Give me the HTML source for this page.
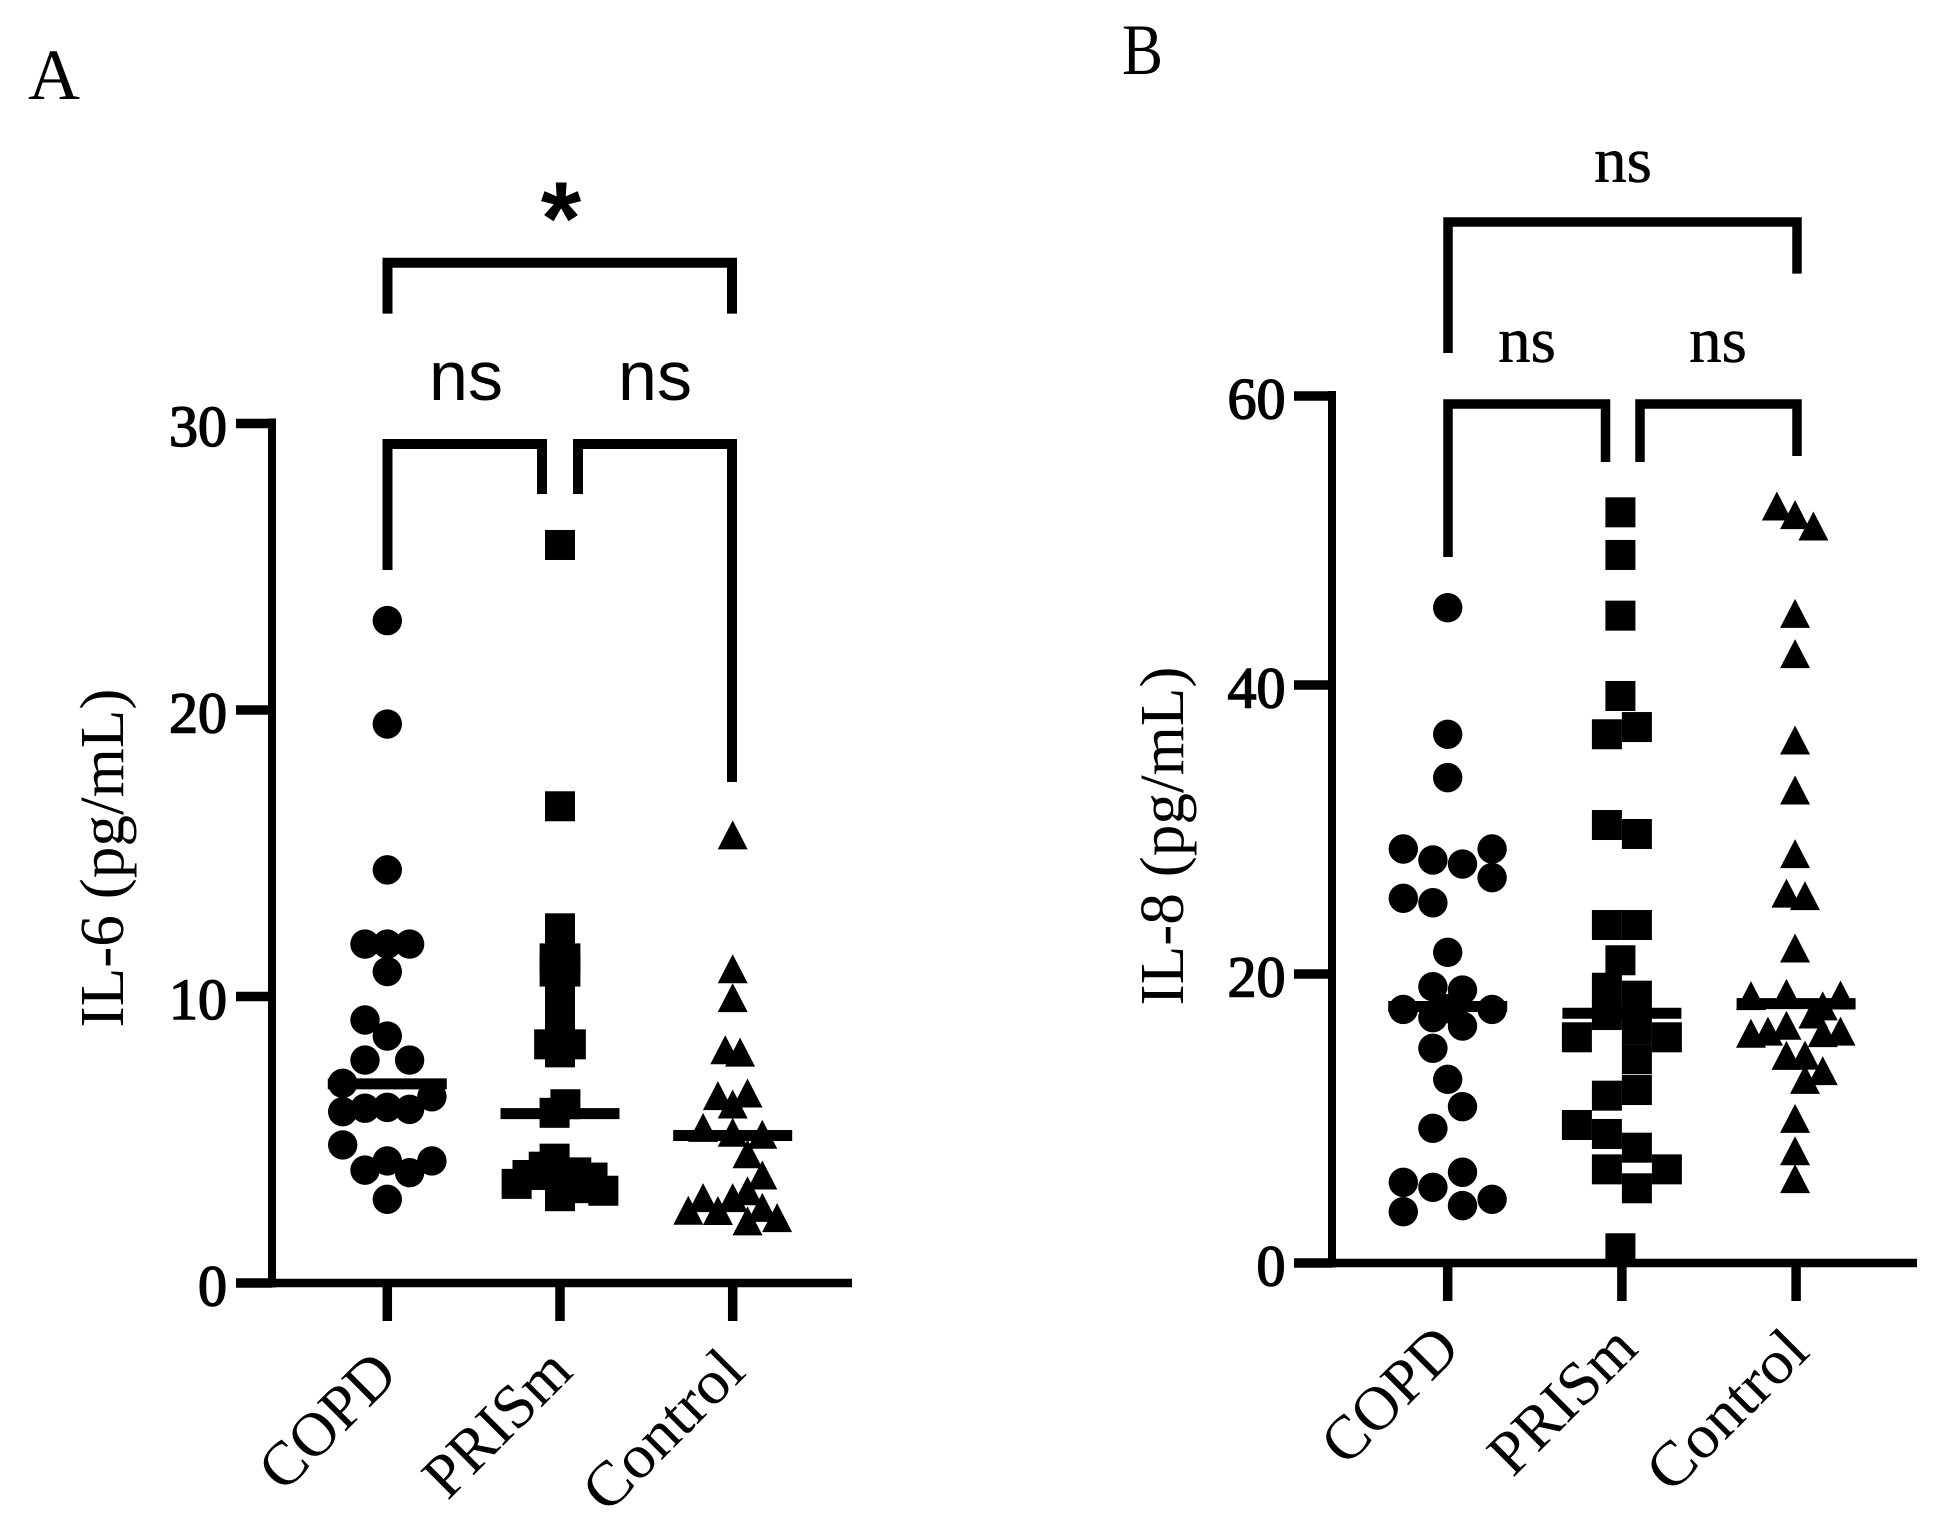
<!DOCTYPE html>
<html lang="en">
<head>
<meta charset="utf-8">
<title>IL-6 and IL-8 by group</title>
<style>
html,body{margin:0;padding:0;background:#fff;}
svg{display:block;}
text{font-family:"Liberation Serif",serif;fill:#000;}
.sans{font-family:"Liberation Sans",sans-serif;}
.bracket{fill:none;stroke:#000;stroke-linejoin:miter;stroke-linecap:butt;}
</style>
</head>
<body>
<svg id="chart" xmlns="http://www.w3.org/2000/svg" width="1942" height="1536" viewBox="0 0 1942 1536">
  <rect width="1942" height="1536" fill="#fff"/>
  <text x="28" y="99" font-size="72">A</text>
  <text x="1122" y="74" font-size="72" textLength="41" lengthAdjust="spacingAndGlyphs">B</text>

  <g>
    <polyline class="bracket" stroke-width="10" points="387.5,313.6 387.5,262.8 732,262.8 732,313.6"/>
    <polyline class="bracket" stroke-width="10" points="387.5,570 387.5,444 542,444 542,494"/>
    <polyline class="bracket" stroke-width="10" points="578,494 578,444 732,444 732,782"/>
    <text class="sans" x="561" y="254" font-size="104" font-weight="700" text-anchor="middle">*</text>
    <text class="sans" x="466" y="400" font-size="70" text-anchor="middle">ns</text>
    <text class="sans" x="655" y="400" font-size="70" text-anchor="middle">ns</text>
  </g>

  <g>
    <polyline class="bracket" stroke-width="9.5" points="1448,353 1448,222 1797,222 1797,273.6"/>
    <polyline class="bracket" stroke-width="9.5" points="1448,557 1448,404 1605.5,404 1605.5,462"/>
    <polyline class="bracket" stroke-width="9.5" points="1640,462 1640,404 1797,404 1797,456"/>
    <text x="1623" y="182" font-size="65" text-anchor="middle" stroke="#000" stroke-width="0.5">ns</text>
    <text x="1527" y="362" font-size="65" text-anchor="middle" stroke="#000" stroke-width="0.5">ns</text>
    <text x="1718" y="362" font-size="65" text-anchor="middle" stroke="#000" stroke-width="0.5">ns</text>
  </g>

  <text transform="translate(123,858) rotate(-90)" font-size="62" textLength="339" lengthAdjust="spacingAndGlyphs" text-anchor="middle">IL-6 (pg/mL)</text>
  <text transform="translate(1183,836) rotate(-90)" font-size="62" textLength="339" lengthAdjust="spacingAndGlyphs" text-anchor="middle">IL-8 (pg/mL)</text>
</svg>

<script>
const categories = ['COPD', 'PRISm', 'Control'];

const aTickLabels = [0, 10, 20, 30];
const aCopdValues = [23.12, 19.51, 14.42, 11.83, 11.83, 11.83, 10.87, 9.18, 8.62, 7.78, 7.78, 6.97, 5.98, 6.10, 6.13, 6.06, 6.50, 4.82, 3.94, 4.26, 3.85, 4.26, 2.92];
const aCopdSwarm = [0, 0, 0, -1, 0, 1, 0, -1, 0, -1, 1, -2, -2, -1, 0, 1, 2, -2, -1, 0, 1, 2, 0];
const aPrismValues = [25.76, 16.64, 12.38, 11.62, 11.33, 11.33, 10.87, 10.87, 10.34, 9.76, 9.35, 8.72, 8.33, 8.33, 8.05, 6.24, 5.94, 4.34, 4.06, 3.77, 3.46, 3.86, 3.68, 3.22, 3.03, 3.60, 3.77, 3.31];
const aPrismSwarm = [0, 0, 0, 0, -1, 1, -1, 1, 0, 0, 0, 0, -2, 2, 0, 1, -1, -1, -3, -6, -8, 3, 6, 8, 0, 0, -3, 3];
const aControlValues = [15.64, 10.97, 9.96, 8.14, 8.06, 6.54, 6.63, 6.25, 5.43, 5.26, 5.19, 4.51, 3.77, 2.98, 2.54, 2.53, 2.98, 3.22, 2.64, 2.28, 2.17];
const aControlSwarm = [0, 0, 0, -0.5, 0.5, -1, 1, 0, -2, 0, 2, 1, 2, -2, -3, -1, 0, 1, 2, 3, 1];
const aMedians = [6.95, 5.91, 5.15];

const bTickLabels = [0, 20, 40, 60];
const bCopdValues = [45.35, 36.59, 33.59, 28.65, 27.89, 27.61, 28.65, 26.67, 25.24, 24.93, 21.5, 19.12, 18.89, 17.55, 17.55, 16.98, 16.40, 17.6, 14.86, 12.71, 10.82, 9.32, 6.28, 5.58, 5.24, 4.41, 3.97, 3.55];
const bCopdSwarm = [0, 0, 0, -3, -1, 1, 3, 3, -3, -1, 0, -1, 1, -3, 3, -1, 1, 0, -1, 0, 1, -1, 1, -3, -1, 3, 1, -3];
const bPrismValues = [51.95, 49.0, 44.8, 39.24, 37.09, 36.59, 30.31, 29.69, 23.39, 23.39, 20.95, 19.05, 18.5, 17.16, 16.17, 15.62, 15.62, 14.1, 11.97, 11.58, 9.55, 8.93, 7.98, 6.48, 6.48, 5.17, 1.02];
const bPrismSwarm = [-0.1, -0.1, -0.1, -0.1, 1, -1, -1, 1, -1, 1, -0.1, -1, 1, -1, 1, -3, 3, 1, 1, -1, -3, -1, 1, -1, 3, 1, -0.1];
const bControlValues = [52.39, 51.79, 51.0, 44.96, 42.17, 36.19, 32.73, 28.33, 25.6, 25.42, 21.8, 18.5, 18.66, 17.79, 18.55, 15.9, 16.05, 16.45, 17.23, 15.94, 16.05, 14.37, 14.39, 13.31, 12.71, 10.01, 7.77, 5.84];
const bControlSwarm = [-1.3, -0.07, 1.17, -0.07, -0.07, -0.07, -0.07, -0.07, -0.65, 0.6, -0.07, -3.05, -0.65, 1.8, 3.0, -3.05, -1.9, -0.65, 1.17, 1.8, 3.0, -0.65, 0.6, 1.8, 0.6, -0.07, -0.07, -0.07];
const bMedians = [17.75, 17.28, 17.95];

const NS = 'http://www.w3.org/2000/svg';
const svg = document.getElementById('chart');

function make(tag, parent, attrs) {
  const el = document.createElementNS(NS, tag);
  for (const k in attrs) el.setAttribute(k, attrs[k]);
  parent.appendChild(el);
  return el;
}

function drawPanel(p) {
  const group = make('g', svg, {});
  
  

  const yScale = v => p.y0 - (v / p.yMax) * (p.y0 - p.yTop);
  const xScale = i => p.x0 + i * p.xStep;

  // axes
  const yAxis = make('line', group, { x1: p.axisX, x2: p.axisX, y1: yScale(p.yMax) - 5, y2: p.y0 + 4.5, stroke: '#000', 'stroke-width': 8 });
  
  
  const xAxis = make('line', group, { x1: p.tickLeft, x2: p.axisRight, y1: p.y0, y2: p.y0, stroke: '#000', 'stroke-width': 8.5 });
  
  

  p.ticks.forEach(t => {
    const tick = make('line', group, { x1: p.tickLeft, x2: p.axisX, y1: yScale(t), y2: yScale(t), stroke: '#000', 'stroke-width': 9.5 });
    
    
    const label = make('text', group, { x: p.tickLabelX, y: yScale(t) + 22.5, 'font-size': 58, 'text-anchor': 'end', stroke: '#000', 'stroke-width': 1.5 });
    label.textContent = String(t);
    
    
  });

  categories.forEach((c, i) => {
    const tick = make('line', group, { x1: xScale(i), x2: xScale(i), y1: p.y0, y2: p.xTickEnd, stroke: '#000', 'stroke-width': 9.5 });
    
    
    const ax = xScale(i) + p.labelDx[i];
    const ay = p.labelY[i];
    const label = make('text', group, { transform: 'translate(' + ax + ',' + ay + ') rotate(-45)', 'font-size': 62, 'text-anchor': 'end', textLength: p.labelLength[i], lengthAdjust: 'spacingAndGlyphs' });
    label.textContent = c;
    
    
  });

  // COPD: circles
  p.circles.values.forEach((v, i) => {
    const m = make('circle', group, { cx: xScale(0) + p.circles.swarm[i] * p.circles.step, cy: yScale(v), r: 14.7, fill: '#000' });
    
    
  });

  // PRISm: squares
  p.squares.values.forEach((v, i) => {
    const cx = xScale(1) + p.squares.swarm[i] * p.squares.step;
    const m = make('rect', group, { x: cx - 15, y: yScale(v) - 15, width: 30, height: 30, fill: '#000' });
    
    
  });

  // Control: triangles
  p.triangles.values.forEach((v, i) => {
    const cx = xScale(2) + p.triangles.swarm[i] * p.triangles.step;
    const cy = yScale(v);
    const pts = [[cx, cy - 14.5], [cx + 15, cy + 14.5], [cx - 15, cy + 14.5]].map(q => q.join(',')).join(' ');
    const m = make('polygon', group, { points: pts, fill: '#000' });
    
    
  });

  // median lines
  p.medians.forEach((v, i) => {
    const line = make('line', group, { x1: xScale(i) - p.medianHalf, x2: xScale(i) + p.medianHalf, y1: yScale(v), y2: yScale(v), stroke: '#000', 'stroke-width': 11 });
    
    
  });
}

drawPanel({
  id: 'a', y0: 1283, yTop: 423.5, yMax: 30, ticks: aTickLabels,
  axisX: 272, tickLeft: 236, axisRight: 852, tickLabelX: 227,
  x0: 387.3, xStep: 172.7, xTickEnd: 1321,
  labelDx: [12.7, 14.9, 15], labelY: [1377, 1374, 1374],
  labelLength: [165, 180, 199],
  circles: { values: aCopdValues, swarm: aCopdSwarm, step: 22.3 },
  squares: { values: aPrismValues, swarm: aPrismSwarm, step: 5.42 },
  triangles: { values: aControlValues, swarm: aControlSwarm, step: 14.8 },
  medians: aMedians, medianHalf: 59.5
});

drawPanel({
  id: 'b', y0: 1263, yTop: 396, yMax: 60, ticks: bTickLabels,
  axisX: 1332, tickLeft: 1294, axisRight: 1917, tickLabelX: 1285.5,
  x0: 1447.7, xStep: 174.2, xTickEnd: 1301,
  labelDx: [14.8, 18.1, 15.5], labelY: [1351, 1351, 1354],
  labelLength: [165, 180, 199],
  circles: { values: bCopdValues, swarm: bCopdSwarm, step: 14.8 },
  squares: { values: bPrismValues, swarm: bPrismSwarm, step: 15 },
  triangles: { values: bControlValues, swarm: bControlSwarm, step: 14.8 },
  medians: bMedians, medianHalf: 59.5
});
</script>
</body>
</html>
